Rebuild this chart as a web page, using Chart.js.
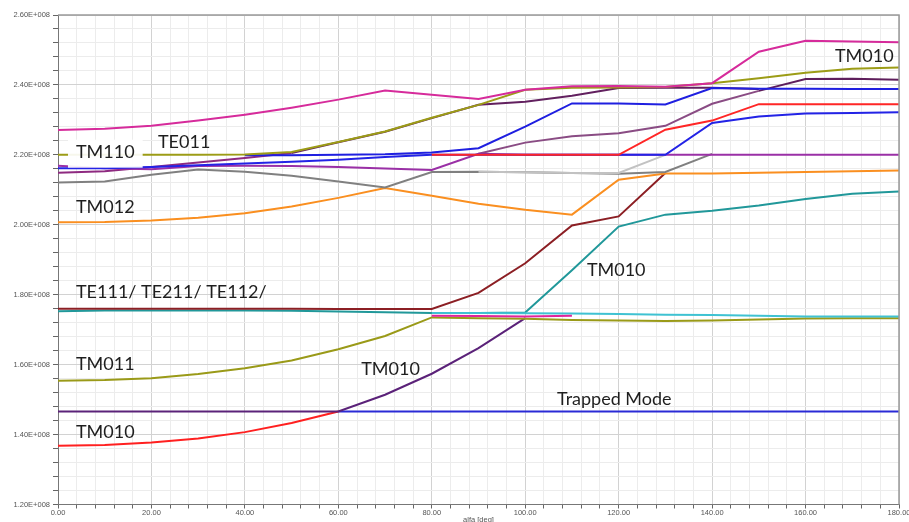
<!DOCTYPE html>
<html><head><meta charset="utf-8">
<script src="https://cdn.jsdelivr.net/npm/chart.js@4.4.1/dist/chart.umd.min.js"></script>
<style>html,body{margin:0;padding:0;background:#fff;}#wrap{width:909px;height:522px;position:relative;}</style>
</head><body><div id="wrap"><canvas id="c"></canvas></div>
<script>
// x: alfa [deg]; y: eigenfrequency in units of 1E+008 Hz
const alfa = [0,10,20,30,40,50,60,70,80,90,100,110,120,130,140,150,160,170,180];
const pinkUpper   = [2.271,2.275,2.283,2.298,2.315,2.335,2.358,2.384,2.372,2.360,2.386,2.396,2.397,2.395,2.405,2.495,2.526,2.524,2.522];
const redUpper    = [null,null,null,null,null,null,null,null,2.200,2.200,2.200,2.200,2.200,2.272,2.298,2.345,2.345,2.345,2.345];
const blueB       = [2.162,2.162,2.165,2.170,2.175,2.180,2.186,2.194,2.200,2.200,2.200,2.200,2.200,2.200,2.291,2.310,2.318,2.320,2.322];
const violet      = [2.169,2.162,2.159,2.168,2.169,2.168,2.165,2.161,2.157,2.203,2.200,2.200,2.200,2.200,2.200,2.200,2.200,2.200,2.200];
const oliveTM110  = [2.200,2.200,2.200,2.200,2.201,2.208,2.237,2.267,2.306,2.343,2.386,2.392,2.393,2.394,2.405,2.419,2.435,2.446,2.450];
const blueA       = [null,null,null,null,2.199,2.199,2.200,2.202,2.207,2.219,2.281,2.347,2.347,2.344,2.391,2.389,2.389,2.388,2.388];
const darkPurple  = [2.149,2.153,2.165,2.178,2.191,2.205,2.236,2.266,2.305,2.343,2.352,2.369,2.391,2.392,2.392,2.388,null,null,null];
const mauve       = [null,null,null,null,null,null,null,null,null,2.203,2.235,2.253,2.262,2.283,2.346,2.383,2.417,2.418,2.415];
const lightGray   = [null,null,null,null,null,null,null,null,null,2.152,2.150,2.148,2.148,2.200,null,null,null,null,null];
const darkGray    = [2.121,2.124,2.143,2.158,2.152,2.140,2.124,2.107,2.151,2.152,2.150,2.148,2.146,2.151,2.203,null,null,null,null];
const orangeTM012 = [2.007,2.008,2.012,2.020,2.033,2.052,2.077,2.105,2.083,2.060,2.043,2.029,2.129,2.147,2.147,2.149,2.151,2.153,2.155];
const maroon      = [1.760,1.760,1.760,1.760,1.760,1.760,1.759,1.759,1.759,1.805,1.890,1.998,2.024,2.148,null,null,null,null,null];
const magentaLow  = [null,null,null,null,null,null,null,null,1.740,1.739,1.738,1.740,null,null,null,null,null,null,null];
const cyan        = [null,null,null,null,null,null,null,null,1.748,1.748,1.747,1.746,1.745,1.743,1.742,1.740,1.738,1.738,1.738];
const teal        = [1.753,1.755,1.755,1.755,1.755,1.754,1.752,1.750,1.748,1.748,1.749,1.870,1.995,2.029,2.040,2.055,2.074,2.089,2.095];
const oliveTM011  = [1.554,1.556,1.561,1.573,1.590,1.612,1.644,1.682,1.735,1.733,1.731,1.728,1.726,1.725,1.726,1.729,1.732,1.733,1.733];
const purpleTM010 = [1.466,1.466,1.466,1.466,1.466,1.466,1.466,1.514,1.574,1.647,1.733,null,null,null,null,null,null,null,null];
const trapped     = [null,null,null,null,null,null,1.466,1.466,1.466,1.466,1.466,1.466,1.466,1.466,1.466,1.466,1.466,1.466,1.466];
const redTM010    = [1.368,1.370,1.377,1.389,1.407,1.433,1.466,null,null,null,null,null,null,null,null,null,null,null,null];

const xTickLabels = ['0.00','20.00','40.00','60.00','80.00','100.00','120.00','140.00','160.00','180.00'];
const yTickLabels = ['1.20E+008','1.40E+008','1.60E+008','1.80E+008','2.00E+008','2.20E+008','2.40E+008','2.60E+008'];
const xTitle = 'alfa [deg]';

// mode labels: text + anchor (x in deg, y in 1E+008)
const labelTexts = ['TM010','TE011','TM110','TM012','TE111/ TE211/ TE112/','TM011','TM010','TM010','TM010','Trapped Mode'];
const labelX     = [166.3, 21.4, 3.85, 3.85, 3.85, 3.85, 3.85, 64.9, 113.2, 106.8];
const labelY     = [2.481, 2.235, 2.209, 2.049, 1.808, 1.602, 1.408, 1.588, 1.871, 1.500];

// top-most first
const series = [
  [pinkUpper,  '#d62b9b'],
  [redUpper,   '#ff2626'],
  [blueB,      '#2323e6'],
  [violet,     '#9a30a6'],
  [oliveTM110, '#9c9c16'],
  [blueA,      '#1f1fe0'],
  [darkPurple, '#62205f'],
  [mauve,      '#8a4c84'],
  [lightGray,  '#c2c2c2'],
  [darkGray,   '#808080'],
  [orangeTM012,'#fa8f20'],
  [maroon,     '#8c1f24'],
  [magentaLow, '#e0259c'],
  [cyan,       '#3fc2d2'],
  [teal,       '#21989a'],
  [oliveTM011, '#9a9a18'],
  [purpleTM010,'#5b2279'],
  [trapped,    '#2a2ad6'],
  [redTM010,   '#ff2020']
];

const datasets = series.map(([vals, col]) => {
  const ds = {
    data: alfa.map((a, i) => ({x: a, y: vals[i]})).filter(p => p.y !== null),
    borderColor: col, borderWidth: 2, pointRadius: 0, tension: 0, fill: false
  };
  if (vals === mauve) {
    ds.segment = { borderColor: c => (c.p0.parsed.x >= 150 ? '#5e1e5c' : col) };
  }
  if (vals === darkPurple) {
    ds.segment = { borderColor: c => (c.p0.parsed.x < 50 ? '#8e2a80' : col) };
  }
  return ds;
});

const TICK_FONT = {family: 'Liberation Sans', size: 7.5};

const deco = {
  id: 'deco',
  afterDatasetsDraw(chart) {
    const {ctx, chartArea: a, scales: {x, y}} = chart;
    ctx.save();
    // frame top/right
    ctx.strokeStyle = '#9a9a9a'; ctx.lineWidth = 1.5;
    ctx.beginPath(); ctx.moveTo(a.left, a.top); ctx.lineTo(a.right, a.top); ctx.lineTo(a.right, a.bottom); ctx.stroke();
    // labels
    ctx.font = '18px Lato';
    ctx.textBaseline = 'middle';
    ctx.textAlign = 'left';
    labelTexts.forEach((t, i) => {
      const px = x.getPixelForValue(labelX[i]);
      const py = y.getPixelForValue(labelY[i]);
      if (t === 'TM110') {
        const w = ctx.measureText(t).width;
        ctx.fillStyle = 'rgba(255,255,255,0.92)';
        ctx.fillRect(px - 8, py - 12, w + 16, 28);
      }
      ctx.fillStyle = '#1e1e1e';
      ctx.fillText(t, px, py);
    });
    // axis title (partly cut off at bottom)
    ctx.font = '7.5px "Liberation Sans"';
    ctx.fillStyle = '#555';
    ctx.textAlign = 'center'; ctx.textBaseline = 'top';
    ctx.fillText(xTitle, (a.left + a.right) / 2, 516);
    ctx.restore();
  }
};

new Chart(document.getElementById('c'), {
  type: 'line',
  data: {datasets},
  options: {
    responsive: true, maintainAspectRatio: false, animation: false,
    layout: {padding: {top: 15, right: 10, left: 0, bottom: 0}},
    plugins: {legend: {display: false}, tooltip: {enabled: false}},
    scales: {
      x: {
        type: 'linear', min: 0, max: 180,
        ticks: {stepSize: 4, autoSkip: false, maxRotation: 0, padding: 0, color: '#555', font: TICK_FONT,
          callback: v => { const k = Math.round(v); return k % 20 === 0 ? xTickLabels[k / 20] : ''; }},
        grid: {
          color: c => (Math.round(c.tick.value) % 20 === 0 ? '#d2d2d2' : '#ececec'),
          tickColor: '#666', tickLength: 4, lineWidth: 1
        },
        border: {color: '#777', width: 1},
        afterFit: s => { s.height = 17.5; s.paddingLeft = 0; s.paddingRight = 0; }
      },
      y: {
        type: 'linear', min: 1.2, max: 2.6,
        ticks: {stepSize: 0.04, autoSkip: false, padding: 3, color: '#555', font: TICK_FONT,
          callback: v => { const k = Math.round(v * 100); return k % 20 === 0 ? yTickLabels[(k - 120) / 20] : ''; }},
        grid: {
          color: c => (Math.round(c.tick.value * 100) % 20 === 0 ? '#d2d2d2' : '#ececec'),
          tickColor: '#666', tickLength: 5, lineWidth: 1
        },
        border: {color: '#777', width: 1},
        afterFit: s => { s.width = 58; }
      }
    }
  },
  plugins: [deco]
});
</script>
</body></html>
